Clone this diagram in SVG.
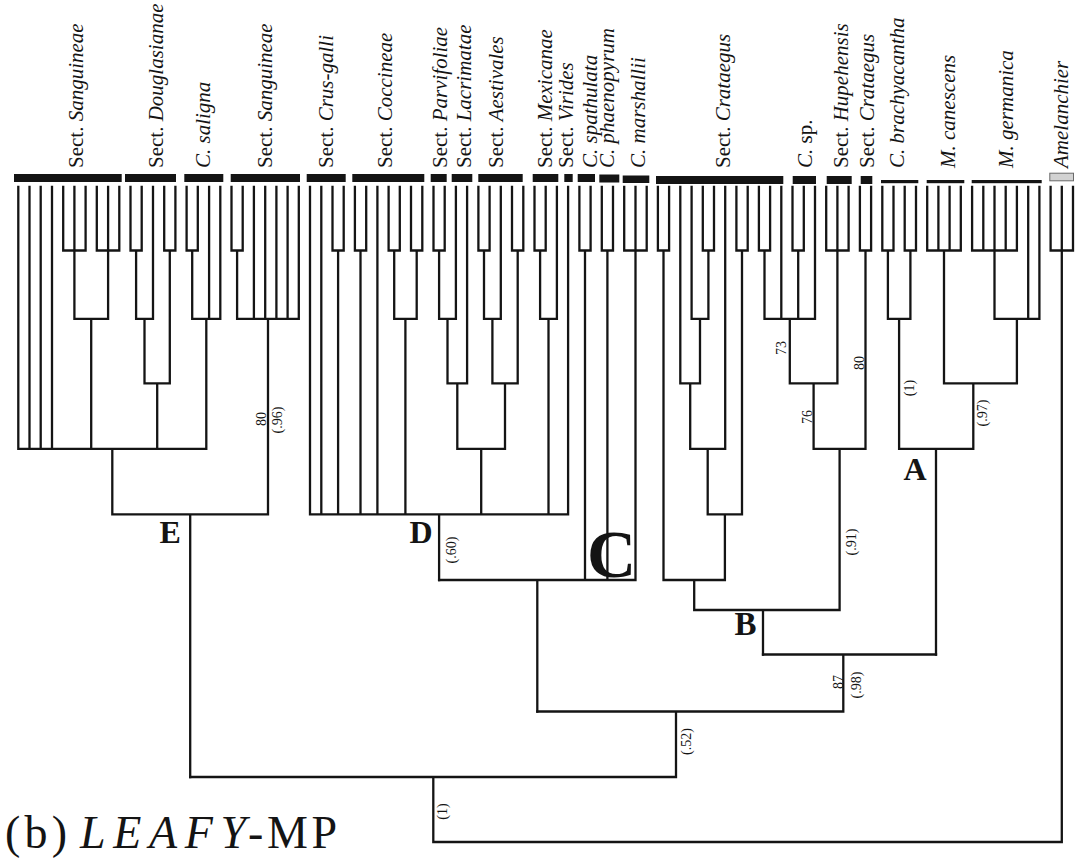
<svg xmlns="http://www.w3.org/2000/svg" width="1079" height="859" viewBox="0 0 1079 859">
<style>
.ln{fill:none;stroke:#141414;stroke-width:2.3;stroke-linecap:square}
.bar{fill:#141414}
.thin{fill:#141414}
.lab{font-family:"Liberation Serif","Times New Roman",serif;font-size:21px;fill:#141414}
.it{font-style:italic}
.sv{font-family:"Liberation Serif","Times New Roman",serif;font-size:14px;fill:#141414;text-anchor:middle}
.cl{font-family:"Liberation Serif","Times New Roman",serif;font-weight:bold;fill:#141414}
.ttl{font-family:"Liberation Serif","Times New Roman",serif;font-size:46px;fill:#141414}
</style>
<rect width="1079" height="859" fill="#ffffff"/>

<!-- taxon label nodes -->
<g id="n-sanguineae-1"><rect class="bar" x="14" y="174" width="107.7" height="8"/><text class="lab" transform="translate(83,168) rotate(-90)">Sect. <tspan class="it">Sanguineae</tspan></text></g>
<g id="n-douglasianae"><rect class="bar" x="125" y="174" width="51" height="8"/><text class="lab" transform="translate(163,168) rotate(-90)">Sect. <tspan class="it">Douglasianae</tspan></text></g>
<g id="n-saligna"><rect class="bar" x="184.3" y="174" width="39" height="8"/><text class="lab" transform="translate(210,168) rotate(-90)"><tspan class="it">C. saligna</tspan></text></g>
<g id="n-sanguineae-2"><rect class="bar" x="230.7" y="174" width="69.3" height="8"/><text class="lab" transform="translate(272,168) rotate(-90)">Sect. <tspan class="it">Sanguineae</tspan></text></g>
<g id="n-crus-galli"><rect class="bar" x="306.7" y="174" width="39" height="8"/><text class="lab" transform="translate(333,168) rotate(-90)">Sect. <tspan class="it">Crus-galli</tspan></text></g>
<g id="n-coccineae"><rect class="bar" x="352.3" y="174" width="72" height="8"/><text class="lab" transform="translate(391.7,168) rotate(-90)">Sect. <tspan class="it">Coccineae</tspan></text></g>
<g id="n-parvifoliae"><rect class="bar" x="430.7" y="174" width="16" height="8"/><text class="lab" transform="translate(447,168) rotate(-90)">Sect. <tspan class="it">Parvifoliae</tspan></text></g>
<g id="n-lacrimatae"><rect class="bar" x="451.7" y="174" width="20.6" height="8"/><text class="lab" transform="translate(470.7,168) rotate(-90)">Sect. <tspan class="it">Lacrimatae</tspan></text></g>
<g id="n-aestivales"><rect class="bar" x="478.3" y="174" width="44.4" height="8"/><text class="lab" transform="translate(503,168) rotate(-90)">Sect. <tspan class="it">Aestivales</tspan></text></g>
<g id="n-mexicanae"><rect class="bar" x="532.7" y="174" width="25.6" height="8"/><text class="lab" transform="translate(552,168) rotate(-90)">Sect. <tspan class="it">Mexicanae</tspan></text></g>
<g id="n-virides"><rect class="bar" x="564.3" y="174" width="8.4" height="8"/><text class="lab" transform="translate(573.3,168) rotate(-90)">Sect. <tspan class="it">Virides</tspan></text></g>
<g id="n-spathulata"><rect class="bar" x="577.7" y="174" width="17.3" height="8"/><text class="lab" transform="translate(596.7,168) rotate(-90)"><tspan class="it">C. spathulata</tspan></text></g>
<g id="n-phaenopyrum"><rect class="bar" x="599.3" y="174.5" width="20" height="8"/><text class="lab" transform="translate(614,168) rotate(-90)"><tspan class="it">C. phaenopyrum</tspan></text></g>
<g id="n-marshallii"><rect class="bar" x="622.7" y="175.5" width="26.6" height="7.5"/><text class="lab" transform="translate(644.5,168) rotate(-90)"><tspan class="it">C. marshallii</tspan></text></g>
<g id="n-crataegus-1"><rect class="bar" x="656" y="176" width="127.3" height="8"/><text class="lab" transform="translate(729.7,168) rotate(-90)">Sect. <tspan class="it">Crataegus</tspan></text></g>
<g id="n-csp"><rect class="bar" x="792.7" y="176" width="23.3" height="8"/><text class="lab" transform="translate(811.7,168) rotate(-90)"><tspan class="it">C.</tspan> sp.</text></g>
<g id="n-hupehensis"><rect class="bar" x="826.7" y="176" width="25" height="8"/><text class="lab" transform="translate(848.3,168) rotate(-90)">Sect. <tspan class="it">Hupehensis</tspan></text></g>
<g id="n-crataegus-2"><rect class="bar" x="860.7" y="176" width="11.6" height="8"/><text class="lab" transform="translate(874,168) rotate(-90)">Sect. <tspan class="it">Crataegus</tspan></text></g>
<g id="n-brachyacantha"><rect class="thin" x="881" y="180" width="37.3" height="3.2"/><text class="lab" transform="translate(904,168) rotate(-90)"><tspan class="it">C. brachyacantha</tspan></text></g>
<g id="n-canescens"><rect class="thin" x="926.7" y="180" width="37.6" height="3.2"/><text class="lab" transform="translate(955,168) rotate(-90)"><tspan class="it">M. canescens</tspan></text></g>
<g id="n-germanica"><rect class="thin" x="971.7" y="180" width="70" height="3.2"/><text class="lab" transform="translate(1013,168) rotate(-90)"><tspan class="it">M. germanica</tspan></text></g>
<g id="n-amelanchier"><rect x="1049.8" y="173.2" width="23.7" height="7.6" fill="#d2d2d2" stroke="#6a6a6a" stroke-width="1"/><text class="lab" transform="translate(1068,168) rotate(-90)"><tspan class="it">Amelanchier</tspan></text></g>

<!-- connectors -->
<g id="connectors" class="ln">
<!-- clade E -->
<path d="M18.3 187V448.8M29.5 187V448.8M40.7 187V448.8M52 187V448.8
M63.2 187V250.5M74.4 187V318.8M85.6 187V250.5M63.2 250.5H85.6
M96.8 187V250.5M108.1 187V318.8M119.3 187V250.5M96.8 250.5H119.3
M74.4 318.8H108.1M91.2 318.8V448.8
M130.5 187V250.5M141.7 187V250.5M130.5 250.5H141.7M136.1 250.5V318.8M153 187V318.8M136.1 318.8H153M144.5 318.8V383.3
M164.2 187V250.5M175.4 187V250.5M164.2 250.5H175.4M169.8 250.5V383.3M144.5 383.3H169.8M157.2 383.3V448.8
M186.6 187V250.5M197.8 187V250.5M186.6 250.5H197.8M192.2 250.5V318.8M209.1 187V318.8M220.3 187V318.8M192.2 318.8H220.3M206.3 318.8V448.8
M18.3 448.8H206.3M112.3 448.8V514.3
M231.5 187V250.5M242.7 187V250.5M231.5 250.5H242.7M237.1 250.5V318.8
M253.9 187V318.8M265.2 187V318.8M276.4 187V318.8M287.6 187V318.8M298.8 187V318.8M237.1 318.8H298.8M268 318.8V514.3
M112.3 514.3H268M190.2 514.3V777"/>
<!-- clade D -->
<path d="M310 187V514.3M321.3 187V514.3
M332.5 187V250.5M343.7 187V250.5M332.5 250.5H343.7M338.1 250.5V514.3
M354.9 187V250.5M366.2 187V250.5M354.9 250.5H366.2M360.5 250.5V514.3
M377.4 187V514.3
M388.6 187V250.5M399.8 187V250.5M388.6 250.5H399.8M394.2 250.5V318.8
M411 187V250.5M422.3 187V250.5M411 250.5H422.3M416.7 250.5V318.8M394.2 318.8H416.7M405.4 318.8V514.3
M433.5 187V250.5M444.7 187V250.5M433.5 250.5H444.7M439.1 250.5V318.8M455.9 187V318.8M439.1 318.8H455.9M447.5 318.8V383.3
M467.1 187V383.3M447.5 383.3H467.1M457.3 383.3V448.8
M478.4 187V250.5M489.6 187V250.5M478.4 250.5H489.6M484 250.5V318.8M500.8 187V318.8M484 318.8H500.8M492.4 318.8V383.3
M512 187V250.5M523.3 187V250.5M512 250.5H523.3M517.7 250.5V383.3M492.4 383.3H517.7M505 383.3V448.8
M457.3 448.8H505M481.2 448.8V514.3
M534.5 187V250.5M545.7 187V250.5M534.5 250.5H545.7M540.1 250.5V318.8M556.9 187V318.8M540.1 318.8H556.9M548.5 318.8V514.3
M568.1 187V514.3
M310 514.3H568.1M439.1 514.3V580"/>
<!-- clade C -->
<path d="M579.4 187V250.5M590.6 187V250.5M579.4 250.5H590.6M585 250.5V580
M601.8 187V250.5M613 187V250.5M601.8 250.5H613M607.4 250.5V580
M624.2 187V250.5M635.5 187V580M646.7 187V250.5M624.2 250.5H646.7
M439.1 580H635.5M537.3 580V711.5"/>
<!-- clade B -->
<path d="M657.9 187V250.5M669.1 187V250.5M657.9 250.5H669.1M663.5 250.5V580
M680.3 187V383.3M691.6 187V318.8M702.8 187V250.5M714 187V250.5M702.8 250.5H714M708.4 250.5V318.8M691.6 318.8H708.4M700 318.8V383.3
M680.3 383.3H700M690.2 383.3V448.8M725.2 187V448.8M690.2 448.8H725.2M707.7 448.8V514.3
M736.4 187V250.5M747.7 187V250.5M736.4 250.5H747.7M742 250.5V514.3M707.7 514.3H742M724.9 514.3V580
M663.5 580H724.9M694.2 580V610
M758.9 187V250.5M770.1 187V250.5M758.9 250.5H770.1M764.5 250.5V318.8M781.3 187V318.8
M792.5 187V250.5M803.8 187V250.5M792.5 250.5H803.8M798.2 250.5V318.8M815 187V318.8
M764.5 318.8H815M789.8 318.8V383.3
M826.2 187V250.5M837.4 187V383.3M848.6 187V250.5M826.2 250.5H848.6
M789.8 383.3H837.4M813.6 383.3V448.8
M859.9 187V250.5M871.1 187V250.5M859.9 250.5H871.1M865.5 250.5V448.8
M813.6 448.8H865.5M839.6 448.8V610
M694.2 610H839.6M763 610V654.5"/>
<!-- clade A -->
<path d="M882.3 187V250.5M893.5 187V250.5M882.3 250.5H893.5M887.9 250.5V318.8
M904.7 187V250.5M916 187V250.5M904.7 250.5H916M910.4 250.5V318.8M887.9 318.8H910.4M899.1 318.8V448.8
M927.2 187V250.5M938.4 187V250.5M949.6 187V250.5M960.8 187V250.5M927.2 250.5H960.8M944 250.5V383.3
M972.1 187V250.5M983.3 187V250.5M994.5 187V318.8M1005.7 187V250.5M1016.9 187V250.5M972.1 250.5H1016.9
M1028.2 187V318.8M1039.4 187V318.8M994.5 318.8H1039.4M1016.9 318.8V383.3
M944 383.3H1016.9M973.3 383.3V448.8
M899.1 448.8H973.3M936 448.8V654.5"/>
<!-- backbone and outgroup -->
<path d="M763 654.5H936M843.3 654.5V711.5
M537.3 711.5H843.3M676 711.5V777
M190.2 777H676M433.3 777V842
M1050.6 187V250.5M1061.8 187V842M1073 187V250.5M1050.6 250.5H1073
M433.3 842H1061.8"/>
</g>

<!-- support values -->
<g id="support-values">
<text class="sv" transform="translate(266,419) rotate(-90)">80</text>
<text class="sv" transform="translate(281.5,420) rotate(-90)">(.96)</text>
<text class="sv" transform="translate(786,348) rotate(-90)">73</text>
<text class="sv" transform="translate(812,417) rotate(-90)">76</text>
<text class="sv" transform="translate(864,363) rotate(-90)">80</text>
<text class="sv" transform="translate(914,388) rotate(-90)">(1)</text>
<text class="sv" transform="translate(986.5,413) rotate(-90)">(.97)</text>
<text class="sv" transform="translate(455.5,550) rotate(-90)">(.60)</text>
<text class="sv" transform="translate(855.5,542) rotate(-90)">(.91)</text>
<text class="sv" transform="translate(842.5,682) rotate(-90)">87</text>
<text class="sv" transform="translate(860.5,685) rotate(-90)">(.98)</text>
<text class="sv" transform="translate(690.5,741.5) rotate(-90)">(.52)</text>
<text class="sv" transform="translate(447,811.5) rotate(-90)">(1)</text>
</g>

<!-- clade letters -->
<g id="clade-labels">
<text class="cl" x="159.5" y="543" font-size="32">E</text>
<text class="cl" x="409.5" y="543" font-size="32">D</text>
<text class="cl" x="587" y="577" font-size="68">C</text>
<text class="cl" x="734.5" y="635" font-size="33">B</text>
<text class="cl" x="903.5" y="480" font-size="32">A</text>
</g>

<!-- title -->
<g id="title">
<text class="ttl" x="5" y="848" textLength="62">(b)</text>
<text class="ttl it" x="80" y="848" textLength="166">LEAFY</text>
<text class="ttl" x="248" y="848" textLength="89">-MP</text>
</g>
</svg>
